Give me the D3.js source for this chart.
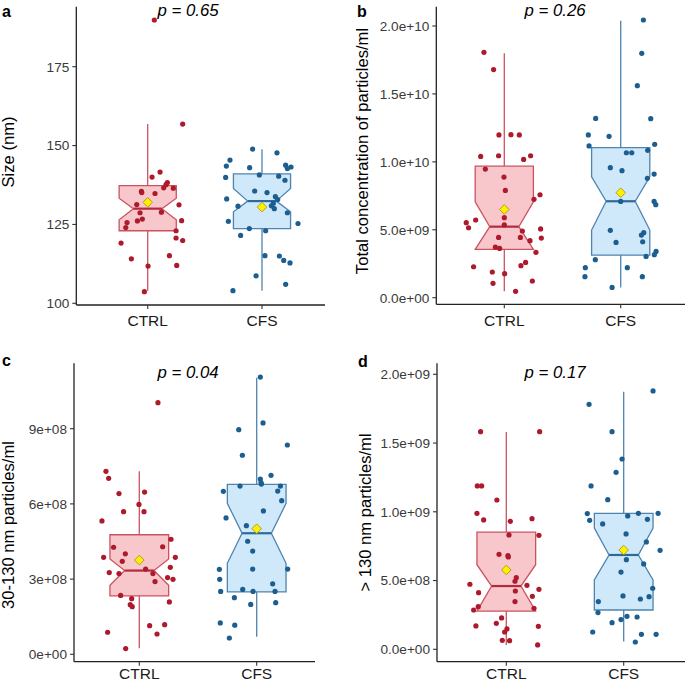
<!DOCTYPE html>
<html>
<head>
<meta charset="utf-8">
<script src="https://cdn.jsdelivr.net/npm/d3@7"></script>
<style>
  html, body { margin: 0; padding: 0; background: #ffffff; }
  svg { display: block; font-family: "Liberation Sans", Arial, sans-serif; }
</style>
</head>
<body>
<svg id="chart" width="685" height="683"></svg>
<script>
// ---------------- DATA ----------------
const categories = ["CTRL", "CFS"];

// Panel a: Size (nm)
const sizeCtrl = [189.8,156.8,140.0,141.6,138.3,137.6,136.5,136.6,135.5,135.1,134.8,131.3,131.2,128.7,128.9,126.7,126.1,126.2,125.6,124.0,123.0,120.7,119.9,119.1,114.1,115.1,111.8,112.0,103.7];
const sizeCtrlJitter = [1.058,1.306,1.038,1.108,1.172,1.160,1.224,1.140,0.945,0.948,1.064,0.904,1.274,0.933,1.120,0.953,0.910,1.297,0.819,0.808,1.248,1.248,1.306,0.767,0.857,1.190,1.003,1.254,0.971];
const sizeCfs = [148.9,147.7,145.4,143.5,143.0,143.8,143.2,142.7,140.7,139.9,140.3,139.0,135.6,135.1,133.8,132.9,133.1,131.7,130.9,130.8,130.0,128.7,126.0,125.3,123.7,123.0,121.5,115.1,115.0,113.6,112.8,108.7,106.0,104.0];
const sizeCfsJitter = [1.918,2.131,1.720,1.688,1.892,2.207,2.254,2.222,1.977,1.682,2.146,2.201,1.936,2.044,2.117,2.137,1.691,2.099,2.082,1.790,2.108,2.222,1.706,2.315,1.889,2.032,1.813,2.026,2.152,2.190,2.245,1.948,2.207,1.746];
// box stats: [whiskerLow, Q1, notchLow, median, notchHigh, Q3, whiskerHigh, mean]
const sizeStats = [[104.0,123.0,126.5,130.0,133.3,137.3,156.8,132.0],[104.0,123.7,129.0,132.4,136.4,141.0,148.8,130.5]];
const sizeTicks = [100,125,150,175];
const sizeTickLabels = ["100","125","150","175"];

// Panel b: total concentration (units of 1e9 particles/ml)
const totalCtrl = [18.06,16.79,11.98,12.00,11.98,10.40,10.45,10.45,10.18,9.47,8.88,7.90,7.58,7.24,5.89,5.52,5.72,5.15,5.37,5.06,4.91,4.44,4.44,4.39,4.20,3.73,3.63,3.34,2.28,2.60,2.36,1.89,1.77,1.06,1.23,0.47];
const totalCtrlJitter = [0.825,0.908,0.954,1.057,1.129,0.797,0.951,1.226,1.166,0.837,0.997,1.009,1.307,1.255,1.000,0.673,0.754,0.693,1.000,1.312,1.155,0.951,1.138,1.318,1.221,0.923,0.960,1.272,0.736,1.183,1.143,0.897,1.003,0.903,1.241,1.097];
const totalCfs = [20.44,17.99,15.61,13.20,13.18,11.98,11.88,11.17,11.29,10.67,10.67,10.85,9.57,9.35,9.10,8.79,7.09,7.09,6.85,4.96,4.79,4.61,4.07,4.12,3.41,3.17,3.04,2.80,2.21,2.21,1.55,1.55,0.76];
const totalCfsJitter = [2.195,2.181,2.143,1.785,2.258,1.722,1.900,1.728,2.292,2.049,2.095,2.232,1.911,2.011,2.287,2.229,2.000,2.287,2.301,1.911,2.198,2.178,1.960,2.189,2.304,2.289,2.218,1.782,1.696,2.057,1.693,2.186,1.926];
const totalStats = [[0.47,3.56,3.56,5.23,7.05,9.68,18.0,6.5],[0.76,3.14,4.98,7.1,8.9,11.04,20.39,7.73]];
const totalTicks = [0,5,10,15,20];
const totalTickLabels = ["0.0e+00","5.0e+09","1.0e+10","1.5e+10","2.0e+10"];

// Panel c: 30-130 nm (units of 1e8 particles/ml)
const smallCtrl = [10.04,7.30,7.02,6.47,6.41,5.98,5.69,5.69,5.32,4.59,4.27,4.29,3.87,4.01,3.71,3.87,3.40,3.47,3.26,3.22,3.22,2.90,3.06,2.99,2.35,2.22,1.98,1.90,2.09,1.14,1.18,0.88,0.81,0.23];
const smallCtrlJitter = [1.159,0.716,0.739,1.045,0.827,0.997,1.040,0.866,0.682,1.270,0.781,1.199,0.696,0.881,0.855,1.307,1.054,1.264,0.744,0.827,1.116,1.134,1.241,1.287,0.841,0.935,0.923,0.940,1.256,1.088,1.216,0.730,1.151,0.884];
const smallCfs = [11.06,9.23,8.96,8.35,7.94,7.14,6.99,6.79,6.71,6.71,6.85,6.50,6.51,6.13,5.72,5.44,5.13,4.51,4.12,3.39,3.40,3.40,2.99,2.81,2.51,2.59,2.51,2.51,2.26,1.99,2.06,1.25,1.16,0.65];
const smallCfsJitter = [2.031,2.054,1.847,2.261,1.878,2.122,2.031,2.040,1.858,2.202,2.037,1.716,2.179,2.213,2.057,1.739,1.912,1.923,1.966,1.682,1.966,2.264,1.685,2.136,1.693,1.881,1.969,2.156,1.810,1.949,2.162,1.690,1.813,1.767];
const smallStats = [[0.24,2.33,2.75,3.34,3.8,4.77,7.30,3.76],[0.70,2.49,3.63,4.83,6.02,6.78,11.03,5.01]];
const smallTicks = [0,3,6,9];
const smallTickLabels = ["0e+00","3e+08","6e+08","9e+08"];

// Panel d: > 130 nm (units of 1e8 particles/ml)
const largeCtrl = [15.83,15.83,11.88,11.88,10.86,9.89,9.41,9.31,9.50,8.32,8.29,6.91,6.81,6.72,5.21,4.95,4.73,4.65,4.24,4.36,4.12,3.85,3.47,3.10,2.86,2.98,2.28,1.89,1.70,1.67,1.48,1.26,0.65,0.63,0.32];
const largeCtrlJitter = [0.781,1.284,0.753,0.790,0.920,0.750,0.807,1.034,1.219,1.023,1.278,0.938,1.014,1.017,1.085,1.074,0.690,1.176,1.077,1.278,0.764,1.222,1.074,0.761,0.722,1.236,0.960,0.915,0.741,1.273,1.006,0.986,0.966,1.028,1.267];
const largeCfs = [18.79,17.82,15.83,13.84,12.87,11.88,10.88,9.87,9.38,9.89,9.89,9.70,9.12,9.45,8.39,7.81,7.20,6.52,6.21,5.62,4.44,3.88,3.83,3.66,3.47,2.67,2.40,2.35,2.16,1.94,1.26,1.09,1.09,0.53];
const largeCfsJitter = [2.250,1.705,1.901,1.986,1.935,1.722,1.864,1.690,1.710,2.125,2.293,2.034,1.821,2.202,2.020,2.193,2.310,2.023,2.170,1.977,2.247,1.994,2.216,2.142,1.784,1.781,2.028,2.114,1.977,1.901,1.736,2.151,2.276,2.099];
const largeStats = [[0.32,2.78,2.78,4.60,6.15,8.52,15.81,5.77],[0.56,2.86,5.04,6.86,8.82,9.89,18.74,7.22]];
const largeTicks = [0,5,10,15,20];
const largeTickLabels = ["0.0e+00","5.0e+08","1.0e+09","1.5e+09","2.0e+09"];

const pValues = ["0.65", "0.26", "0.04", "0.17"];
const yTitles = ["Size (nm)", "Total concentration of particles/ml", "30-130 nm particles/ml", "> 130 nm particles/ml"];
const panelLetters = ["a", "b", "c", "d"];

// ---------------- STYLE / LAYOUT ----------------
const colors = {
  CTRL: { point: "#AD1A2B", fill: "#F8C7CC", stroke: "#CB5360", median: "#B12B3B" },
  CFS:  { point: "#1B5E8F", fill: "#CFE8FA", stroke: "#4E84AF", median: "#2C6A9C" }
};
const meanFill = "#FFF000", meanStroke = "#A99B20";

const panels = [
  { ctrl: sizeCtrl, ctrlJ: sizeCtrlJitter, cfs: sizeCfs, cfsJ: sizeCfsJitter, stats: sizeStats, ticks: sizeTicks, tickLabels: sizeTickLabels,
    yDom: [100,175], yRange: [303.3, 66.7], xRange: [147.7, 262], axisX: 76.3, axisY: 305, top: 6.7, right: 325,
    letterPos: [2, 17], titlePos: [13.5, 152], pPos: [188, 15.6], xLabY: 325.7 },
  { ctrl: totalCtrl, ctrlJ: totalCtrlJitter, cfs: totalCfs, cfsJ: totalCfsJitter, stats: totalStats, ticks: totalTicks, tickLabels: totalTickLabels,
    yDom: [0,20], yRange: [297.7, 26], xRange: [504.3, 620.7], axisX: 436.3, axisY: 304.3, top: 6.7, right: 685,
    letterPos: [357, 17], titlePos: [367.5, 151], pPos: [555, 15.6], xLabY: 325.5 },
  { ctrl: smallCtrl, ctrlJ: smallCtrlJitter, cfs: smallCfs, cfsJ: smallCfsJitter, stats: smallStats, ticks: smallTicks, tickLabels: smallTickLabels,
    yDom: [0,9], yRange: [654.3, 428.7], xRange: [139.3, 256.7], axisX: 74, axisY: 661.7, top: 363.3, right: 315,
    letterPos: [2, 366], titlePos: [13.8, 525], pPos: [188, 378.3], xLabY: 679.3 },
  { ctrl: largeCtrl, ctrlJ: largeCtrlJitter, cfs: largeCfs, cfsJ: largeCfsJitter, stats: largeStats, ticks: largeTicks, tickLabels: largeTickLabels,
    yDom: [0,20], yRange: [649.3, 374.3], xRange: [506.3, 623.7], axisX: 437, axisY: 661.7, top: 363.3, right: 685,
    letterPos: [358, 367], titlePos: [370.5, 512.5], pPos: [555, 378.3], xLabY: 679.3 }
];

const boxWidth = 0.5;     // in category units
const notchWidth = 0.5;   // fraction of box width at the median

const svg = d3.select("#chart");

panels.forEach((p, i) => {
  const y = d3.scaleLinear().domain(p.yDom).range(p.yRange);
  const x = d3.scaleLinear().domain([1, 2]).range(p.xRange);
  const g = svg.append("g");

  // whiskers + boxes
  categories.forEach((cat, ci) => {
    const s = p.stats[ci];
    const [lo, q1, nLo, med, nHi, q3, hi, mean] = s;
    const cx = ci + 1;
    const c = colors[cat];
    g.append("line").attr("x1", x(cx)).attr("x2", x(cx)).attr("y1", y(hi)).attr("y2", y(q3))
      .attr("stroke", c.stroke).attr("stroke-width", 1.3);
    g.append("line").attr("x1", x(cx)).attr("x2", x(cx)).attr("y1", y(q1)).attr("y2", y(lo))
      .attr("stroke", c.stroke).attr("stroke-width", 1.3);
    const xmin = cx - boxWidth / 2, xmax = cx + boxWidth / 2;
    const inset = boxWidth * (1 - notchWidth) / 2;
    const poly = [
      [xmin, q3], [xmin, nHi], [xmin + inset, med], [xmin, nLo], [xmin, q1],
      [xmax, q1], [xmax, nLo], [xmax - inset, med], [xmax, nHi], [xmax, q3]
    ];
    g.append("path")
      .attr("d", d3.line().x(d => x(d[0])).y(d => y(d[1]))(poly) + "Z")
      .attr("fill", c.fill).attr("stroke", c.stroke).attr("stroke-width", 1.3)
      .attr("stroke-linejoin", "miter");
    g.append("line").attr("x1", x(xmin + inset)).attr("x2", x(xmax - inset))
      .attr("y1", y(med)).attr("y2", y(med))
      .attr("stroke", c.median).attr("stroke-width", 2.2);
  });

  // jittered points
  const series = [
    { cat: "CTRL", vals: p.ctrl, jit: p.ctrlJ },
    { cat: "CFS", vals: p.cfs, jit: p.cfsJ }
  ];
  series.forEach(sr => {
    g.append("g").selectAll("circle").data(sr.vals).join("circle")
      .attr("cx", (d, k) => x(sr.jit[k]))
      .attr("cy", d => y(d))
      .attr("r", 2.6)
      .attr("fill", colors[sr.cat].point);
  });

  // means
  categories.forEach((cat, ci) => {
    const mean = p.stats[ci][7];
    g.append("path")
      .attr("d", d3.symbol(d3.symbolSquare, 46)())
      .attr("transform", `translate(${x(ci + 1)},${y(mean)}) rotate(45)`)
      .attr("fill", meanFill).attr("stroke", meanStroke).attr("stroke-width", 0.9);
  });

  // axes lines
  g.append("line").attr("x1", p.axisX).attr("x2", p.axisX).attr("y1", p.top).attr("y2", p.axisY)
    .attr("stroke", "#222").attr("stroke-width", 1.3);
  g.append("line").attr("x1", p.axisX).attr("x2", p.right).attr("y1", p.axisY).attr("y2", p.axisY)
    .attr("stroke", "#222").attr("stroke-width", 1.3);

  // y ticks
  const yt = g.append("g");
  p.ticks.forEach((t, k) => {
    yt.append("line").attr("x1", p.axisX - 4).attr("x2", p.axisX).attr("y1", y(t)).attr("y2", y(t))
      .attr("stroke", "#333").attr("stroke-width", 1.1);
    yt.append("text").attr("x", p.axisX - 7).attr("y", y(t)).attr("dy", "0.36em")
      .attr("text-anchor", "end").attr("font-size", 13.6).attr("fill", "#3a3a3a")
      .text(p.tickLabels[k]);
  });

  // x ticks
  categories.forEach((cat, ci) => {
    g.append("line").attr("x1", x(ci + 1)).attr("x2", x(ci + 1)).attr("y1", p.axisY).attr("y2", p.axisY + 4)
      .attr("stroke", "#333").attr("stroke-width", 1.1);
    g.append("text").attr("x", x(ci + 1)).attr("y", p.xLabY).attr("text-anchor", "middle")
      .attr("font-size", 15.5).attr("fill", "#1a1a1a").text(cat);
  });

  // y title
  g.append("text")
    .attr("transform", `translate(${p.titlePos[0]},${p.titlePos[1]}) rotate(-90)`)
    .attr("text-anchor", "middle").attr("font-size", 16.6).attr("fill", "#000")
    .text(yTitles[i]);

  // p-value
  const pt = g.append("text").attr("x", p.pPos[0]).attr("y", p.pPos[1]).attr("text-anchor", "middle")
    .attr("font-size", 16.8).attr("font-style", "italic").attr("fill", "#000");
  pt.text("p = " + pValues[i]);

  // panel letter
  g.append("text").attr("x", p.letterPos[0]).attr("y", p.letterPos[1])
    .attr("font-size", 16).attr("font-weight", "bold").attr("fill", "#000")
    .text(panelLetters[i]);
});
</script>
</body>
</html>
